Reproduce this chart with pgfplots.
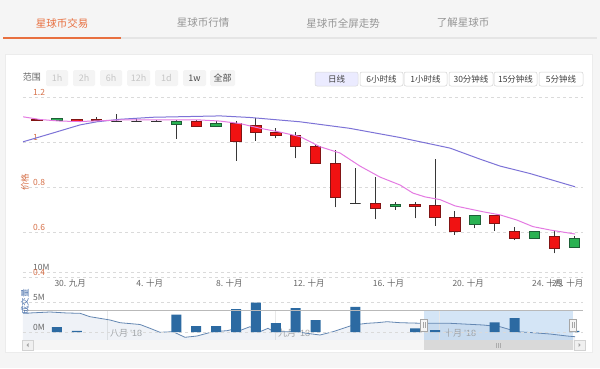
\documentclass[border=0pt]{standalone}
\usepackage{pgfplots}
\usepackage{pgfplotstable}
\pgfplotsset{compat=1.18}
\usepackage{fontspec}
\setmainfont{Noto Sans CJK SC}
\newfontfamily\latin{Liberation Sans}
\definecolor{pagebg}{RGB}{245,245,245}
\definecolor{taborange}{RGB}{232,112,64}
\definecolor{tabgray}{RGB}{150,150,150}
\definecolor{pricelab}{RGB}{214,112,72}
\definecolor{gridc}{RGB}{218,218,218}
\definecolor{axgray}{RGB}{102,102,102}
\definecolor{upg}{RGB}{42,178,82}
\definecolor{updark}{RGB}{30,95,55}
\definecolor{downr}{RGB}{240,18,18}
\definecolor{downdark}{RGB}{130,20,20}
\definecolor{flatc}{RGB}{50,50,50}
\definecolor{wickc}{RGB}{55,55,55}
\definecolor{mapink}{RGB}{228,122,226}
\definecolor{mapurple}{RGB}{125,115,215}
\definecolor{volblue}{RGB}{44,106,162}
\definecolor{navline}{RGB}{100,135,178}
\definecolor{navmask}{RGB}{212,229,246}
\definecolor{volttl}{RGB}{70,110,170}
\newcommand{\fs}[1]{\fontsize{#1}{#1}\selectfont}

\pgfplotstableread{
d o h l c
0 1.100 1.104 1.094 1.094
1 1.098 1.107 1.098 1.105
2 1.101 1.104 1.092 1.092
3 1.100 1.112 1.093 1.094
4 1.093 1.123 1.093 1.093
5 1.093 1.102 1.093 1.093
6 1.093 1.099 1.093 1.093
7 1.079 1.100 1.015 1.092
8 1.090 1.100 1.068 1.068
9 1.068 1.093 1.068 1.083
10 1.083 1.093 0.916 1.001
11 1.072 1.105 1.006 1.043
12 1.043 1.061 1.016 1.027
13 1.027 1.043 0.927 0.979
14 0.979 0.991 0.905 0.905
15 0.905 0.964 0.710 0.752
16 0.727 0.883 0.727 0.727
17 0.727 0.843 0.656 0.705
18 0.714 0.732 0.698 0.723
19 0.723 0.735 0.661 0.713
20 0.716 0.923 0.627 0.665
21 0.665 0.693 0.587 0.601
22 0.632 0.672 0.616 0.672
23 0.672 0.674 0.606 0.636
24 0.603 0.624 0.564 0.572
25 0.572 0.604 0.572 0.604
26 0.579 0.609 0.505 0.526
27 0.532 0.582 0.532 0.573
}\ohlc

\pgfplotstableread{
d v
1 0.8
2 0.2
7 2.9
8 1.0
9 1.0
10 3.8
11 4.9
12 1.5
13 4.0
14 2.0
16 4.2
19 0.6
20 0.3
23 1.6
24 2.3
27 0.2
}\vol

\pgfplotstableread{
x y
23 54.7
50 56
67 55
80 54.7
90 51.3
110 48
120 45.3
140 43.5
150 39.7
160 35.7
173 36.3
185 30.7
197 32
213 36.3
227 37.3
232 38.5
240 37.5
250 41.3
260 36.3
268 39.7
274 36.3
287 36.3
297 36.3
307 34.7
320 33
333 36.3
353 43
367 44.7
377 45.3
387 46.3
400 45.3
423 44.7
450 44.7
483 43
500 41.3
517 36.3
533 35.3
550 34
567 32
575 31.3
}\nav

\begin{document}
\begin{tikzpicture}[x=1pt,y=1pt]
\useasboundingbox (0,0) rectangle (600,368);
\fill[pagebg] (0,0) rectangle (600,368);
% container
\fill[white] (5,16) rectangle (592,314);
\draw[gray!15, line width=0.6pt] (5,16) rectangle (592,314);
% tabs
\node[text=taborange, font=\fs{10.5}] at (62,345) {星球币交易};
\node[text=tabgray, font=\fs{10.5}] at (203,345) {星球币行情};
\node[text=tabgray, font=\fs{10.5}] at (343,345) {星球币全屏走势};
\node[text=tabgray, font=\fs{10.5}] at (463,345) {了解星球币};
\draw[gray!20, line width=1.5pt] (121,330) -- (597,330);
\draw[taborange, line width=1.5pt] (3,330) -- (121,330);
% range selector
\node[text=axgray, font=\fs{9}] at (32,291) {范围};
\foreach \a/\b/\t/\c in {46/68/1h/gray!45, 73/95/2h/gray!45, 100/122/6h/gray!45, 127/150/12h/gray!45, 155/178/1d/gray!45, 183/206/1w/black!70, 210/235/全部/black!70}{
  \fill[gray!9, rounded corners=1.5pt] (\a,282) rectangle (\b,298);
  \node[text=\c, font=\fs{9}] at ({(\a+\b)/2},290) {\t};
}
% period buttons
\fill[blue!8, rounded corners=2pt] (315,282) rectangle (358,296);
\draw[gray!30, rounded corners=2pt, line width=0.5pt] (315,282) rectangle (358,296);
\node[text=black!75, font=\fs{8.5}] at (336.5,289) {日线};
\foreach \a/\b/\t in {360/403/6小时线, 404/447/1小时线, 449/493/30分钟线, 494/537/15分钟线, 539/583/5分钟线}{
  \draw[gray!35, fill=white, rounded corners=2pt, line width=0.5pt] (\a,282) rectangle (\b,296);
  \node[text=black!75, font=\fs{8.5}] at ({(\a+\b)/2},289) {\t};
}
% navigator mask and grid
\fill[navmask] (424,28) rectangle (573,58);
\foreach \gx in {107,275,439}{\draw[gray!18, line width=0.5pt] (\gx,28) -- (\gx,58);}
\node[anchor=west, text=gray!70, font=\fs{9}, inner sep=0pt] at (110,35) {八月 {\latin ’18}};
\node[anchor=west, text=gray!70, font=\fs{9}, inner sep=0pt] at (278,35) {九月 {\latin ’18}};
\node[anchor=west, text=gray!70, font=\fs{9}, inner sep=0pt] at (444,35) {十月 {\latin ’18}};

% navigator series
\begin{axis}[at={(23pt,28pt)}, anchor=south west, scale only axis, width=560pt, height=30pt,
  xmin=23, xmax=583, ymin=28, ymax=58, hide axis]
\addplot[draw=none, fill=navline, fill opacity=0.10] table[x=x,y=y]{\nav} \closedcycle;
\addplot[navline, line width=0.8pt] table[x=x,y=y]{\nav};
\end{axis}

% volume pane
\begin{axis}[at={(23pt,36pt)}, anchor=south west, scale only axis, width=560pt, height=60pt,
  xmin=-0.704, xmax=27.437, ymin=0, ymax=10,
  axis line style={draw=none}, major tick length=0pt,
  xtick=\empty, ytick={0,5,10}, yticklabels={0M,5M,10M},
  ymajorgrids, grid style={dashed, draw=gridc, line width=0.6pt},
  yticklabel style={anchor=south west, xshift=9pt, inner sep=1pt, text=axgray, font=\fs{8.5}}]
\addplot[ybar, bar width=10pt, fill=volblue, draw=none] table[x=d,y=v]{\vol};
\end{axis}

% navigator outline and handles
\draw[gray!55, line width=0.7pt] (23,58) -- (583,58);
\foreach \hx in {424,573}{
  \draw[gray!70, fill=gray!8, line width=0.5pt] (\hx-3.5,37) rectangle (\hx+3.5,49);
  \draw[gray!70, line width=0.4pt] (\hx-1,40) -- (\hx-1,46) (\hx+1,40) -- (\hx+1,46);
}
% scrollbar
\fill[gray!8] (22,18) rectangle (585,28);
\fill[gray!30] (424,18) rectangle (573,28);
\draw[gray!65, line width=0.4pt] (496.5,20.5) -- (496.5,25.5) (498.5,20.5) -- (498.5,25.5) (500.5,20.5) -- (500.5,25.5);
\draw[gray!35, fill=gray!12, line width=0.4pt] (22,18) rectangle (33,28);
\draw[gray!35, fill=gray!12, line width=0.4pt] (574,18) rectangle (585,28);
\fill[gray!70] (26.5,23) -- (28.5,21) -- (28.5,25) -- cycle;
\fill[gray!70] (580.5,23) -- (578.5,21) -- (578.5,25) -- cycle;

% price pane
\begin{axis}[at={(23pt,91pt)}, anchor=south west, scale only axis, width=560pt, height=180pt,
  xmin=-0.704, xmax=27.437, ymin=0.4, ymax=1.2,
  axis line style={draw=none}, major tick length=0pt,
  ytick={0.4,0.6,0.8,1,1.2}, yticklabels={0.4,0.6,0.8,1,1.2},
  ymajorgrids, grid style={dashed, draw=gridc, line width=0.6pt},
  yticklabel style={anchor=south west, xshift=9pt, inner sep=1pt, text=pricelab, font=\fs{8.5}},
  xtick={1.667,5.667,9.667,13.667,17.667,21.667,25.667,26.667},
  xticklabels={30. 九月, 4. 十月, 8. 十月, 12. 十月, 16. 十月, 20. 十月, 24. 十月, 25. 十月},
  xticklabel style={anchor=north, inner sep=2pt, text=axgray, font=\fs{8.5}}]
\pgfplotstablegetrowsof{\ohlc}
\pgfmathtruncatemacro{\lastrow}{\pgfplotsretval-1}
\pgfplotsforeachungrouped \i in {0,...,\lastrow}{%
  \pgfplotstablegetelem{\i}{d}\of\ohlc \edef\Cd{\pgfplotsretval}%
  \pgfplotstablegetelem{\i}{o}\of\ohlc \edef\Co{\pgfplotsretval}%
  \pgfplotstablegetelem{\i}{h}\of\ohlc \edef\Ch{\pgfplotsretval}%
  \pgfplotstablegetelem{\i}{l}\of\ohlc \edef\Cl{\pgfplotsretval}%
  \pgfplotstablegetelem{\i}{c}\of\ohlc \edef\Cc{\pgfplotsretval}%
  \pgfmathsetmacro{\xa}{\Cd-0.26}%
  \pgfmathsetmacro{\xb}{\Cd+0.26}%
  \pgfmathtruncatemacro{\kind}{\Cc>\Co ? 1 : (\Cc<\Co ? 2 : 0)}%
  \ifcase\kind \def\bst{fill=flatc,draw=flatc}\or\def\bst{fill=upg,draw=updark}\else\def\bst{fill=downr,draw=downdark}\fi
  \edef\tmp{\noexpand\addplot[wickc, line width=0.9pt, forget plot] coordinates {(\Cd,\Cl) (\Cd,\Ch)};%
    \noexpand\addplot[\bst, line width=0.9pt, forget plot] coordinates {(\xa,\Co) (\xb,\Co) (\xb,\Cc) (\xa,\Cc)} -- cycle;}%
  \tmp
}
\addplot[mapurple, line width=1pt] coordinates {
(-0.70,1.001) (0.80,1.040) (2.16,1.076) (3.02,1.090) (4.17,1.101) (5.83,1.110)
(9.20,1.116) (10.70,1.109) (13.20,1.090) (15.70,1.061) (18.24,1.020) (20.75,0.973)
(22.26,0.924) (23.27,0.893) (24.77,0.860) (27.04,0.801)};
\addplot[mapink, line width=1pt] coordinates {
(-0.70,1.112) (0.15,1.100) (1.16,1.093) (2.16,1.091) (4.17,1.098) (6.68,1.098)
(8.19,1.098) (9.20,1.093) (10.20,1.082) (11.21,1.061) (12.21,1.044) (13.22,1.024)
(14.22,0.979) (15.23,0.951) (16.23,0.893) (17.24,0.844) (18.24,0.809) (18.89,0.773)
(19.50,0.756) (20.25,0.744) (21.01,0.716) (22.41,0.690) (23.27,0.676) (24.12,0.653)
(24.92,0.624) (25.78,0.609) (27.04,0.591)};
\end{axis}

% axis titles
\node[rotate=90, text=pricelab, font=\fs{8.5}] at (25,186) {价格};
\node[rotate=90, text=volttl, font=\fs{8.5}] at (25,66) {成交量};
\end{tikzpicture}
\end{document}
